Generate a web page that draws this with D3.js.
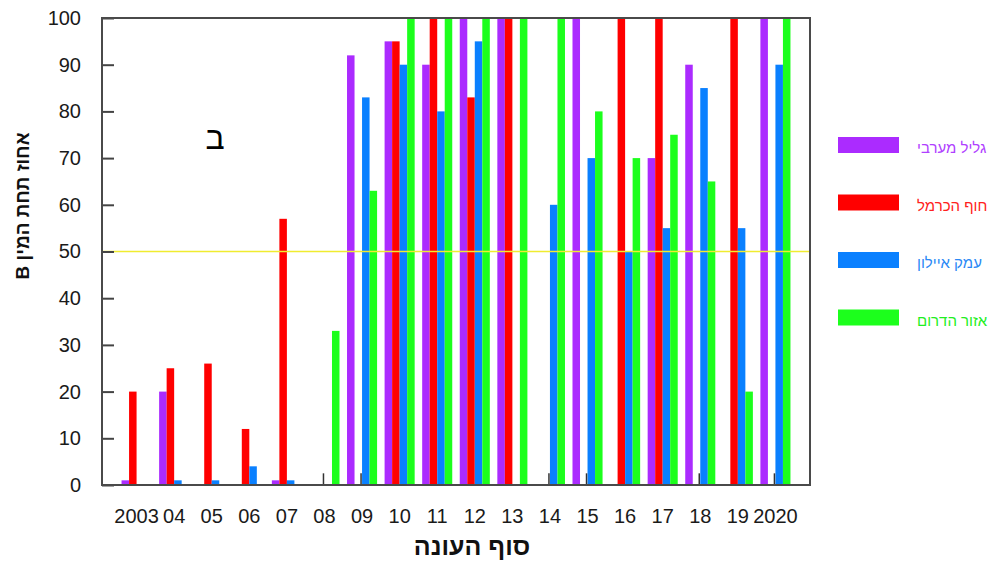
<!DOCTYPE html>
<html lang="he">
<head>
<meta charset="utf-8">
<script src="https://cdn.jsdelivr.net/npm/d3@7"></script>
<style>
  html, body { margin: 0; padding: 0; background: #ffffff; }
  svg { display: block; }
  text { font-family: "Liberation Sans", Arial, sans-serif; }
</style>
</head>
<body>
<svg id="chart" width="995" height="561"></svg>
<script>
// Season end labels along the x axis
const categories = ["2003", "04", "05", "06", "07", "08", "09", "10", "11", "12",
                    "13", "14", "15", "16", "17", "18", "19", "2020"];

// Region names (legend order)
const seriesNames = ["גליל מערבי", "חוף הכרמל", "עמק איילון", "אזור הדרום"];
const seriesColors = ["#ab2bff", "#ff0000", "#0a80ff", "#1cff1c"];
const legendTextColors = ["#b040ff", "#ff2020", "#2a88f5", "#22ee22"];

// Percent under variety B, per region and season
const galilMaaravi = [1, 20, 0, 0, 1, 0, 92, 95, 90, 100, 100, 0, 100, 0, 70, 90, 0, 100];
const hofHacarmel  = [20, 25, 26, 12, 57, 0, 0, 95, 100, 83, 100, 0, 0, 100, 100, 0, 100, 0];
const emekAyalon   = [0, 1, 1, 4, 1, 0, 83, 90, 80, 95, 0, 60, 70, 50, 55, 85, 55, 90];
const ezorHadarom  = [0, 0, 0, 0, 0, 33, 63, 100, 100, 100, 100, 100, 80, 70, 75, 65, 20, 100];

// Short dark marks near the base of some groups
const markerCategories = ["08", "09", "14", "15", "18", "2020"];
const markerValue = 2.5;

const yTicks = [0, 10, 20, 30, 40, 50, 60, 70, 80, 90, 100];
const thresholdValue = 50;

const seriesValues = [galilMaaravi, hofHacarmel, emekAyalon, ezorHadarom];

const svg = d3.select("#chart");

const plot = { left: 102, right: 810, top: 18, bottom: 485 };

const x0 = d3.scaleBand()
  .domain(categories)
  .range([plot.left, plot.right])
  .paddingInner(0.2)
  .paddingOuter(0.52);

const x1 = d3.scaleBand()
  .domain(d3.range(seriesNames.length))
  .range([0, x0.bandwidth()]);

const y = d3.scaleLinear()
  .domain([0, 100])
  .range([plot.bottom, plot.top]);

// Flatten into bar records
const bars = [];
categories.forEach((cat, i) => {
  seriesValues.forEach((vals, s) => {
    if (vals[i] > 0) bars.push({ cat, s, v: vals[i] });
  });
});

svg.append("g")
  .selectAll("rect")
  .data(bars)
  .join("rect")
  .attr("x", d => x0(d.cat) + x1(d.s))
  .attr("y", d => y(d.v))
  .attr("width", x1.bandwidth())
  .attr("height", d => y(0) - y(d.v))
  .attr("fill", d => seriesColors[d.s]);

// Small marks at the base
svg.append("g")
  .selectAll("line")
  .data(markerCategories)
  .join("line")
  .attr("x1", d => x0(d) + x1(2) - 1)
  .attr("x2", d => x0(d) + x1(2) - 1)
  .attr("y1", y(0))
  .attr("y2", y(markerValue))
  .attr("stroke", "#333")
  .attr("stroke-width", 1.5);

// Threshold line
svg.append("line")
  .attr("x1", plot.left)
  .attr("x2", plot.right)
  .attr("y1", y(thresholdValue))
  .attr("y2", y(thresholdValue))
  .attr("stroke", "#f0ec30")
  .attr("stroke-width", 1.3);

// Y axis: ticks point into the plot
const yAxis = svg.append("g")
  .attr("transform", `translate(${plot.left},0)`)
  .call(d3.axisLeft(y).tickValues(yTicks).tickSizeInner(-12).tickSizeOuter(0).tickPadding(21));
yAxis.select(".domain").remove();
yAxis.selectAll(".tick line").attr("stroke", "#444").attr("stroke-width", 2);
yAxis.selectAll(".tick text")
  .attr("font-size", 20)
  .attr("fill", "#1a1a1a")
  .attr("font-family", "Liberation Sans, Arial, sans-serif");

// X axis labels
const xAxis = svg.append("g")
  .attr("transform", `translate(0,${plot.bottom})`)
  .call(d3.axisBottom(x0).tickSize(0).tickPadding(24));
xAxis.select(".domain").remove();
xAxis.selectAll(".tick text")
  .attr("font-size", 20)
  .attr("fill", "#1a1a1a")
  .attr("font-family", "Liberation Sans, Arial, sans-serif");

// Plot frame
svg.append("rect")
  .attr("x", plot.left)
  .attr("y", plot.top)
  .attr("width", plot.right - plot.left)
  .attr("height", plot.bottom - plot.top)
  .attr("fill", "none")
  .attr("stroke", "#4a4a4a")
  .attr("stroke-width", 2);

// Axis titles
svg.append("text")
  .attr("x", 472)
  .attr("y", 555)
  .attr("text-anchor", "middle")
  .attr("font-size", 25)
  .attr("font-weight", "bold")
  .attr("fill", "#111")
  .text("סוף העונה");

svg.append("text")
  .attr("transform", "translate(29,206) rotate(-90)")
  .attr("text-anchor", "middle")
  .attr("direction", "rtl")
  .style("unicode-bidi", "embed")
  .attr("font-size", 19)
  .attr("font-weight", "bold")
  .attr("fill", "#111")
  .text("אחוז תחת המין B");

// Panel letter
svg.append("text")
  .attr("x", 215)
  .attr("y", 149)
  .attr("text-anchor", "middle")
  .attr("font-size", 32)
  .attr("fill", "#000")
  .text("ב");

// Legend
const legend = svg.append("g")
  .selectAll("g")
  .data(seriesNames)
  .join("g")
  .attr("transform", (d, i) => `translate(838,${137 + i * 57.5})`);

legend.append("rect")
  .attr("width", 61)
  .attr("height", 16)
  .attr("fill", (d, i) => seriesColors[i]);

legend.append("text")
  .attr("x", 79)
  .attr("y", 16)
  .attr("font-size", 15)
  .attr("fill", (d, i) => legendTextColors[i])
  .text(d => d);
</script>
</body>
</html>
